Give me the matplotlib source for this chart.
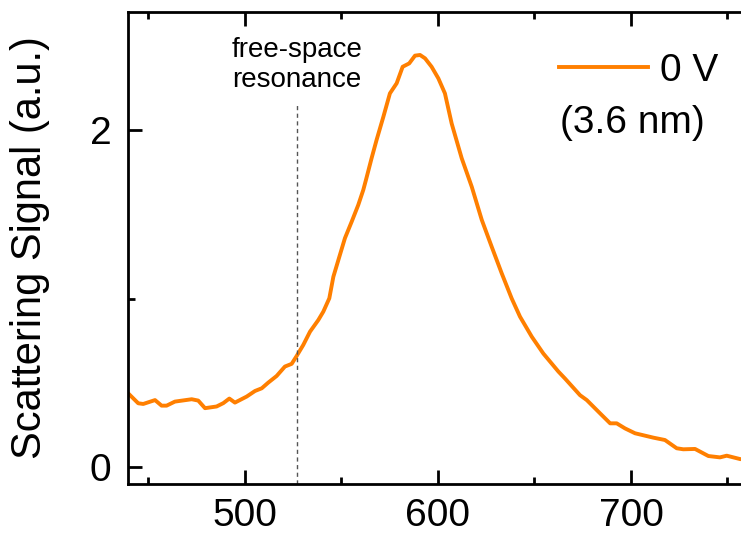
import matplotlib
matplotlib.use("Agg")
import matplotlib.pyplot as plt
from matplotlib.ticker import MultipleLocator

plt.rcParams['font.family'] = ['Liberation Sans', 'DejaVu Sans']

# Dark-field scattering spectrum at 0 V bias
wavelength = [439.5, 444.7, 447.3, 453.4, 456.8, 459.4, 463.7, 472.4, 475.8, 479.3,
              485.3, 488.8, 491.9, 494.8, 500.9, 505.2, 508.7, 512.1, 516.4, 520.7,
              524.2, 526.8, 530.2, 533.7, 538.0, 540.6, 543.7, 545.8, 549.2, 551.8,
              555.3, 558.7, 561.3, 562.7, 565.6, 568.2, 571.7, 575.1, 578.6, 581.7,
              585.1, 588.1, 590.7, 593.3, 596.7, 600.2, 603.6, 607.1, 612.3, 617.5,
              622.7, 627.8, 633.0, 638.2, 642.5, 648.6, 654.6, 662.4, 665.8, 673.6,
              677.1, 684.0, 689.2, 692.6, 696.9, 702.1, 711.6, 717.6, 723.7, 727.1,
              733.2, 740.1, 746.1, 749.6, 756.5, 760.0]
signal = [0.439, 0.380, 0.376, 0.399, 0.366, 0.366, 0.390, 0.404, 0.396, 0.351,
          0.361, 0.381, 0.408, 0.384, 0.420, 0.453, 0.469, 0.503, 0.542, 0.598,
          0.614, 0.661, 0.726, 0.805, 0.874, 0.924, 1.003, 1.131, 1.261, 1.360,
          1.458, 1.557, 1.646, 1.706, 1.834, 1.943, 2.080, 2.219, 2.279, 2.377,
          2.397, 2.443, 2.447, 2.427, 2.377, 2.308, 2.219, 2.040, 1.834, 1.665,
          1.468, 1.310, 1.152, 1.002, 0.894, 0.775, 0.675, 0.568, 0.527, 0.428,
          0.399, 0.320, 0.261, 0.261, 0.231, 0.202, 0.176, 0.162, 0.113, 0.107,
          0.109, 0.067, 0.059, 0.069, 0.049, 0.045]

free_space_res = 527.0
series_label = "0 V"
series_note = "(3.6 nm)"

fig = plt.figure(figsize=(7.41, 5.35), dpi=100)
ax = fig.add_axes([128 / 741, 51 / 535, 1 - 128 / 741, (484 - 12) / 535])

ax.plot(wavelength, signal, color="#FF7F00", lw=2.8, label=series_label)
# dashed marker of the free-space resonance, from the axis up to the caption
ax.axvline(free_space_res, ymin=0, ymax=0.807,
           color="#555555", lw=1.0, ls=(0, (3, 2.5)))

ax.set_xlim(439.4, 757)
ax.set_ylim(-0.099, 2.702)

ax.xaxis.set_major_locator(MultipleLocator(100))
ax.xaxis.set_minor_locator(MultipleLocator(50))
ax.yaxis.set_major_locator(MultipleLocator(2))
ax.yaxis.set_minor_locator(MultipleLocator(1))

for side in ("left", "bottom", "top"):
    ax.spines[side].set_linewidth(2.0)
ax.spines["right"].set_visible(False)

ax.tick_params(axis="both", which="both", direction="in", width=2.0,
               top=True, right=False, labelsize=28)
ax.tick_params(which="major", length=10)
ax.tick_params(which="minor", length=5)
ax.tick_params(axis="x", pad=10)
ax.tick_params(axis="y", pad=12)

ax.set_ylabel("Scattering Signal (a.u.)", fontsize=30)
ax.yaxis.set_label_coords(-0.127, 0.5)

ax.text(free_space_res, 0.947, "free-space\nresonance", ha="center", va="top",
        fontsize=20, linespacing=1.2, transform=ax.get_xaxis_transform())

ax.legend(loc="center left", bbox_to_anchor=(559 / 741, 1 - 71 / 535),
          bbox_transform=fig.transFigure, frameon=False, fontsize=28,
          handlelength=2.3, handletextpad=0.3, borderaxespad=0, borderpad=0)
ax.text(560 / 741, 1 - 123 / 535, series_note, transform=fig.transFigure,
        ha="left", va="center", fontsize=28)

fig.savefig("out.png", dpi=100)
